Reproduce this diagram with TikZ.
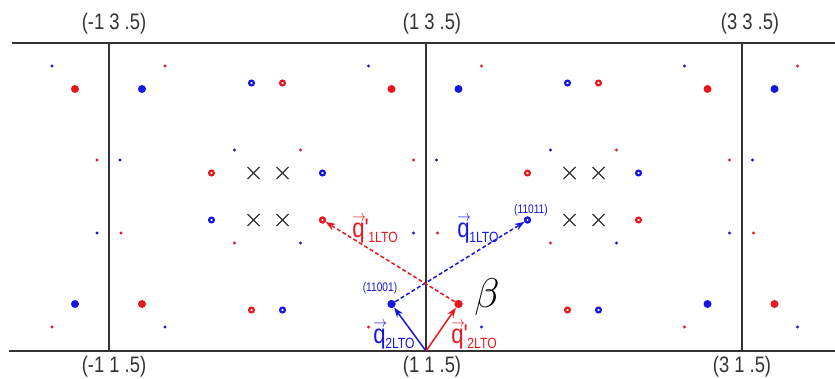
\documentclass[tikz,border=0pt]{standalone}
\usepackage{fontspec}
\usetikzlibrary{arrows.meta}
\newfontfamily\lblfont[FakeStretch=0.82]{Liberation Sans}
\definecolor{qred}{RGB}{232,22,30}
\definecolor{qblue}{RGB}{22,22,225}
\definecolor{framegray}{RGB}{51,51,51}
\newcommand{\qarrow}{\rlap{\raisebox{8pt}{\resizebox{6.8pt}{3pt}{$\rightarrow$}}}}
\newcommand{\qlbl}[2]{\qarrow q#1\kern-0.2pt\raisebox{-2.8pt}{\fontsize{7.4}{8}\selectfont #2}}

\tikzset{
  bigdot/.style={circle,inner sep=0pt,minimum size=4pt,fill=#1},
  ringdot/.style={circle,inner sep=0pt,minimum size=2.4pt,draw=#1,line width=1.1pt},
  hkl/.style={font=\lblfont\fontsize{11.2}{13}\selectfont,text=framegray},
  qtext/.style={font=\lblfont\fontsize{13.5}{15}\selectfont,text=#1,inner sep=1pt},
  idx/.style={font=\lblfont\fontsize{6.2}{7}\selectfont,text=#1},
  vec/.style={line width=0.75pt,-{Stealth[length=5pt,width=3.6pt]}},
  dvec/.style={vec,dash pattern=on 2pt off 1.2pt}
}

\begin{document}
\begin{tikzpicture}[x=0.5pt,y=-0.5pt]
  \useasboundingbox (0,0) rectangle (835,379);
  % frame
  \draw[framegray,line width=1pt] (12,43) -- (835,43);
  \draw[framegray,line width=1pt] (9,351) -- (835,351);
  \foreach \lx in {109,425.5,741.5}
    \draw[framegray,line width=1pt] (\lx,43) -- (\lx,351);
  % dots around the lines
  \foreach \lx in {109,425.5,741.5} {
    \foreach \dx/\y/\c in {-57/66/qblue,56/66/qred,-12/160/qred,11/160/qblue,
                           -12/233/qblue,12/233/qred,-57/327/qred,56/327/qblue}
      \fill[\c] (\lx+\dx,\y) circle (0.85pt);
    \foreach \dx/\y/\c in {-34/89/qred,33/89/qblue,-34/304/qblue,33/304/qred}
      \fill[\c] (\lx+\dx,\y) circle (2pt);
  }
  % rings, dots and crosses in the cells
  \foreach \mx in {267.5,583.5} {
    \foreach \dx/\y/\c in {-16/83/qblue,15/83/qred,-56/173/qred,55/173/qblue,
                           -56/220/qblue,55/220/qred,-16/310/qred,15/310/qblue}
      \draw[\c,line width=1.1pt] (\mx+\dx,\y) circle (1.2pt);
    \foreach \dx/\y/\c in {-33/150/qblue,33/150/qred,-33/243/qred,33/243/qblue}
      \fill[\c] (\mx+\dx,\y) circle (0.85pt);
    \foreach \dx/\y in {-14/173,15/173,-14/220,15/220}
      \draw[framegray,line width=0.7pt] (\mx+\dx-6,\y-6) -- ++(12,12)
                                        (\mx+\dx-6,\y+6) -- ++(12,-12);
  }
  % hkl labels
  \node[hkl] (t1) at (114,24) {(-1 3 .5)};
  \node[hkl] (t2) at (432,24) {(1 3 .5)};
  \node[hkl] (t3) at (750,24) {(3 3 .5)};
  \node[hkl] (b1) at (114,367) {(-1 1 .5)};
  \node[hkl] (b2) at (432,367) {(1 1 .5)};
  \node[hkl] (b3) at (742,367) {(3 1 .5)};
  % wave vectors
  \coordinate (o) at (426,351);
  \node[bigdot=qblue] (d11001) at (391.5,304) {};
  \node[bigdot=qred] (d2p) at (458.5,304) {};
  \node[ringdot=qblue] (d11011) at (527.5,220) {};
  \node[ringdot=qred] (d1p) at (322.5,220) {};
  \draw[qblue,vec] (o) -- (d11001);
  \draw[qred,vec] (o) -- (d2p);
  \draw[qblue,dvec] (d11001) -- (d11011);
  \draw[qred,dvec] (d2p) -- (d1p);
  \node[qtext=qred] (lq1p) at (375,229) {\qlbl{'}{1LTO}};
  \node[qtext=qblue] (lq1) at (478,229) {\qlbl{}{1LTO}};
  \node[qtext=qblue] (lq2) at (394,335) {\qlbl{}{2LTO}};
  \node[qtext=qred] (lq2p) at (474,335) {\qlbl{'}{2LTO}};
  \node[idx=qblue] (l11001) at (380,288) {(11001)};
  \node[idx=qblue] (l11011) at (531,210) {(11011)};
  \node[font=\fontsize{20}{22}\selectfont] (lbeta) at (487,297) {$\beta$};
\end{tikzpicture}
\end{document}
